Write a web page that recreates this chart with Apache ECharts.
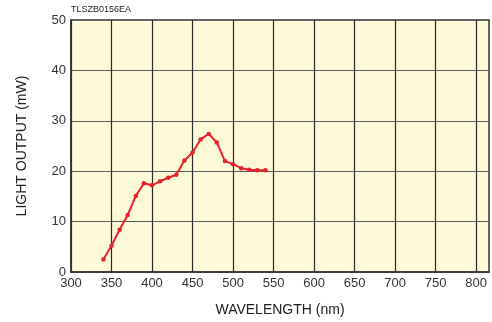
<!DOCTYPE html>
<html><head><meta charset="utf-8">
<script src="https://cdn.jsdelivr.net/npm/echarts@6/dist/echarts.min.js"></script>
<style>html,body{margin:0;padding:0;background:#fff}#c{width:492px;height:322px}</style>
</head><body><div id="c"></div>
<script>
const wavelength = [340,350,360,370,380,390,400,410,420,430,440,450,460,470,480,490,500,510,520,530,540];
const lightOutput = [2.5,5.2,8.4,11.3,15.1,17.6,17.2,18.0,18.7,19.3,22.1,23.7,26.3,27.4,25.7,22.0,21.4,20.6,20.3,20.2,20.2];
const xTicks = [300,350,400,450,500,550,600,650,700,750,800];
const yTicks = [0,10,20,30,40,50];

const chart = echarts.init(document.getElementById('c'), null, {renderer:'canvas'});
const font = 'Liberation Sans, Arial, sans-serif';
chart.setOption({
  animation:false,
  backgroundColor:'#ffffff',
  graphic:[{type:'text', left:71, top:5, style:{text:'TLSZB0156EA', font:'9px '+font, fill:'#222'}}],
  grid:{left:71, right:-1, top:20, bottom:47.5, show:true, backgroundColor:'#fef9d6', borderWidth:1.5, borderColor:'#333'},
  xAxis:{type:'value', min:300, max:816, interval:50,
    name:'WAVELENGTH (nm)', nameLocation:'middle', nameGap:31,
    nameTextStyle:{fontFamily:font, fontSize:14, color:'#222'},
    axisLine:{show:true, onZero:false, lineStyle:{color:'#333', width:1.5}},
    axisTick:{show:false},
    axisLabel:{fontFamily:font, fontSize:13, color:'#333', margin:5,
      formatter:v => xTicks.includes(v) ? String(v) : ''},
    splitLine:{show:true, showMaxLine:false, lineStyle:{color:'#2a2a2a', width:1.2}}},
  yAxis:{type:'value', min:0, max:50, interval:10,
    name:'LIGHT OUTPUT (mW)', nameLocation:'middle', nameGap:42,
    nameTextStyle:{fontFamily:font, fontSize:14, color:'#222'},
    axisLine:{show:true, onZero:false, lineStyle:{color:'#333', width:1.5}},
    axisTick:{show:false},
    axisLabel:{fontFamily:font, fontSize:13, color:'#333', margin:5,
      formatter:v => yTicks.includes(v) ? String(v) : ''},
    splitLine:{show:true, showMaxLine:false, lineStyle:{color:'#5a5a5a', width:1.2}}},
  series:[{type:'line', data:wavelength.map((w,i)=>[w, lightOutput[i]]),
    symbol:'circle', symbolSize:4.5, showSymbol:true,
    lineStyle:{color:'#e8222c', width:2}, itemStyle:{color:'#e8222c'}}]
});
</script></body></html>
